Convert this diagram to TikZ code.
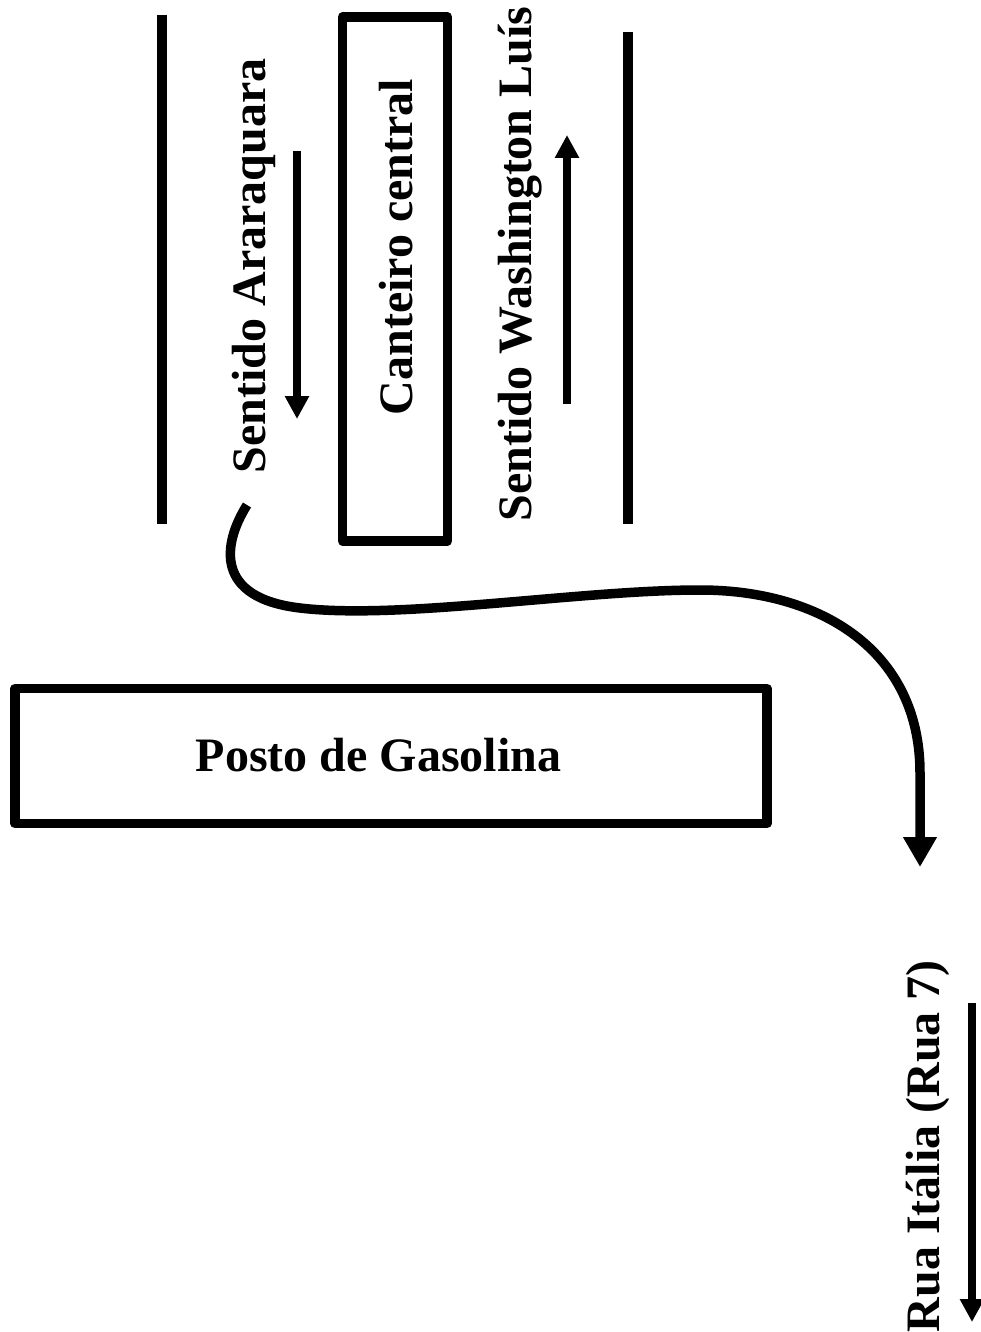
\documentclass[tikz,border=0pt]{standalone}
\usepackage{fontspec}
\setmainfont{Liberation Serif}
\usetikzlibrary{arrows.meta}
\begin{document}
\begin{tikzpicture}[x=1pt,y=-1pt,
  lbl/.style={font=\fontsize{48}{58}\selectfont\bfseries, inner sep=0pt},
  vlbl/.style={lbl, rotate=90, anchor=base},
  road/.style={line width=10pt},
  boxed/.style={draw, line width=9.5pt, line join=round, inner sep=0pt},
  flow/.style={line width=8pt, -{Triangle[length=23pt,width=23pt]}},
  route/.style={line width=9.5pt, -{Triangle[length=30pt,width=32pt]}}]
\useasboundingbox (0,0) rectangle (980,1332);
% road edges
\coordinate (l1) at (162,15); \coordinate (l2) at (162,524);
\coordinate (r1) at (628,32); \coordinate (r2) at (628,524);
\draw[road] (l1) -- (l2);
\draw[road] (r1) -- (r2);
% central median
\node[boxed, minimum width=105pt, minimum height=524pt] (canteiro) at (395,279) {};
\node[vlbl] (canteirotxt) at (412,247) {Canteiro central};
% labels of directions
\node[vlbl] (arara) at (265,266) {Sentido Araraquara};
\node[vlbl] (wash) at (531,264) {Sentido Washington Luís};
% direction arrows
\coordinate (a1) at (297,151); \coordinate (a2) at (297,419);
\draw[flow] (a1) -- (a2);
\coordinate (w1) at (567,404); \coordinate (w2) at (567,135);
\draw[flow] (w1) -- (w2);
% gas station
\node[boxed, minimum width=752pt, minimum height=135pt] (posto) at (391,756) {};
\node[lbl, anchor=base] (postotxt) at (378.5,771) {Posto de Gasolina};
% route curve
\coordinate (c0) at (247,505);
\coordinate (c1) at (300,608);
\coordinate (c2) at (700,590);
\coordinate (c3) at (920,773);
\coordinate (c4) at (920,867);
\draw[route] (c0) .. controls (222,545) and (215,598) .. (c1)
  .. controls (400,620) and (580,590) .. (c2)
  .. controls (820,590) and (920,650) .. (c3) -- (c4);
% Rua Italia
\node[vlbl] (rua) at (939,1146) {Rua Itália (Rua 7)};
\coordinate (ra1) at (972,1003); \coordinate (ra2) at (972,1322);
\draw[flow] (ra1) -- (ra2);
\end{tikzpicture}
\end{document}
